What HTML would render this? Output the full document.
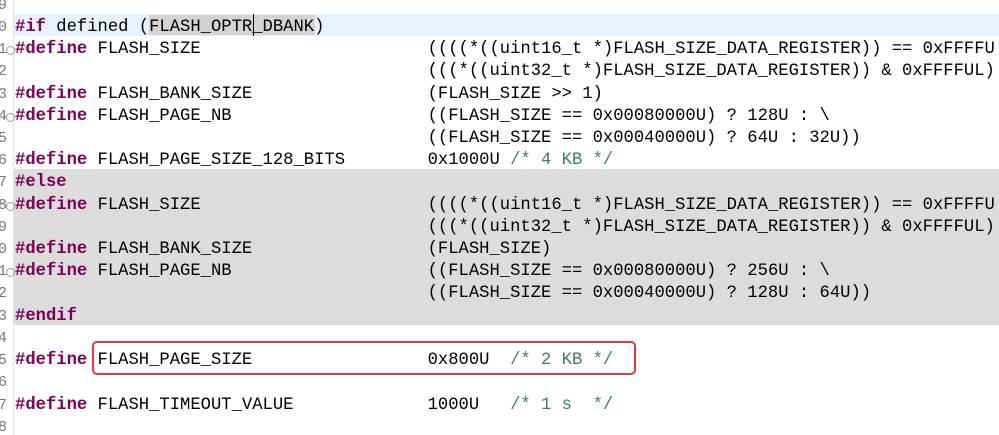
<!DOCTYPE html>
<html><head><meta charset="utf-8"><style>
html,body{margin:0;padding:0;background:#fff;width:999px;height:435px;overflow:hidden;position:relative}
.l{position:absolute;left:15px;height:22px;line-height:22px;font-family:"Liberation Mono",monospace;font-size:17.2px;white-space:pre;color:#000;transform:translateY(3px)}
.n{position:absolute;left:-2px;width:9px;text-align:right;height:22px;line-height:22px;font-family:"Liberation Mono",monospace;font-size:15px;color:#787878;overflow:hidden;transform:translateY(3px)}
.f{position:absolute;left:6px;width:7px;height:7px;border:1px solid #999;border-radius:50%;font-size:0;transform:translateY(3px)}
.k{color:#7f0055;font-weight:bold}
.c{color:#3f7f5f}
</style></head><body>
<div style="position:absolute;left:14px;top:14px;width:985px;height:22px;background:#e8f2fe"></div>
<div style="position:absolute;left:14px;top:169px;width:985px;height:156px;background:#dcdcdc"></div>
<div style="position:absolute;left:13px;top:0;width:1px;height:435px;background:#e4e4e4"></div>
<div style="position:absolute;left:149px;top:15px;width:166px;height:20px;background:#d4d4d4"></div>
<div style="position:absolute;left:253px;top:14px;width:1px;height:22px;background:#000"></div>
<div style="position:absolute;left:92px;top:341px;width:544px;height:34px;border:2px solid #e53a3a;border-radius:5px;box-sizing:border-box"></div>

<div class="n" style="top:-8px">9</div>
<div class="n" style="top:14px">0</div>
<div class="n" style="top:36px">1</div><div class="f" style="top:43px"></div>
<div class="n" style="top:58px">2</div>
<div class="n" style="top:81px">3</div>
<div class="n" style="top:103px">4</div><div class="f" style="top:110px"></div>
<div class="n" style="top:125px">5</div>
<div class="n" style="top:147px">6</div>
<div class="n" style="top:169px">7</div>
<div class="n" style="top:192px">8</div><div class="f" style="top:199px"></div>
<div class="n" style="top:214px">9</div>
<div class="n" style="top:236px">0</div>
<div class="n" style="top:258px">1</div><div class="f" style="top:265px"></div>
<div class="n" style="top:280px">2</div>
<div class="n" style="top:303px">3</div>
<div class="n" style="top:325px">4</div>
<div class="n" style="top:347px">5</div>
<div class="n" style="top:369px">6</div>
<div class="n" style="top:392px">7</div>
<div class="n" style="top:414px">8</div>

<div class="l" style="top:14px"><span class="k">#if</span> defined (FLASH_OPTR_DBANK)</div>
<div class="l" style="top:36px"><span class="k">#define</span> FLASH_SIZE                      ((((*((uint16_t *)FLASH_SIZE_DATA_REGISTER)) == 0xFFFFU</div>
<div class="l" style="top:58px">                                        (((*((uint32_t *)FLASH_SIZE_DATA_REGISTER)) &amp; 0xFFFFUL)</div>
<div class="l" style="top:81px"><span class="k">#define</span> FLASH_BANK_SIZE                 (FLASH_SIZE &gt;&gt; 1)</div>
<div class="l" style="top:103px"><span class="k">#define</span> FLASH_PAGE_NB                   ((FLASH_SIZE == 0x00080000U) ? 128U : \</div>
<div class="l" style="top:125px">                                        ((FLASH_SIZE == 0x00040000U) ? 64U : 32U))</div>
<div class="l" style="top:147px"><span class="k">#define</span> FLASH_PAGE_SIZE_128_BITS        0x1000U <span class="c">/* 4 KB */</span></div>
<div class="l" style="top:169px"><span class="k">#else</span></div>
<div class="l" style="top:192px"><span class="k">#define</span> FLASH_SIZE                      ((((*((uint16_t *)FLASH_SIZE_DATA_REGISTER)) == 0xFFFFU</div>
<div class="l" style="top:214px">                                        (((*((uint32_t *)FLASH_SIZE_DATA_REGISTER)) &amp; 0xFFFFUL)</div>
<div class="l" style="top:236px"><span class="k">#define</span> FLASH_BANK_SIZE                 (FLASH_SIZE)</div>
<div class="l" style="top:258px"><span class="k">#define</span> FLASH_PAGE_NB                   ((FLASH_SIZE == 0x00080000U) ? 256U : \</div>
<div class="l" style="top:280px">                                        ((FLASH_SIZE == 0x00040000U) ? 128U : 64U))</div>
<div class="l" style="top:303px"><span class="k">#endif</span></div>
<div class="l" style="top:347px"><span class="k">#define</span> FLASH_PAGE_SIZE                 0x800U  <span class="c">/* 2 KB */</span></div>
<div class="l" style="top:392px"><span class="k">#define</span> FLASH_TIMEOUT_VALUE             1000U   <span class="c">/* 1 s  */</span></div>
</body></html>
